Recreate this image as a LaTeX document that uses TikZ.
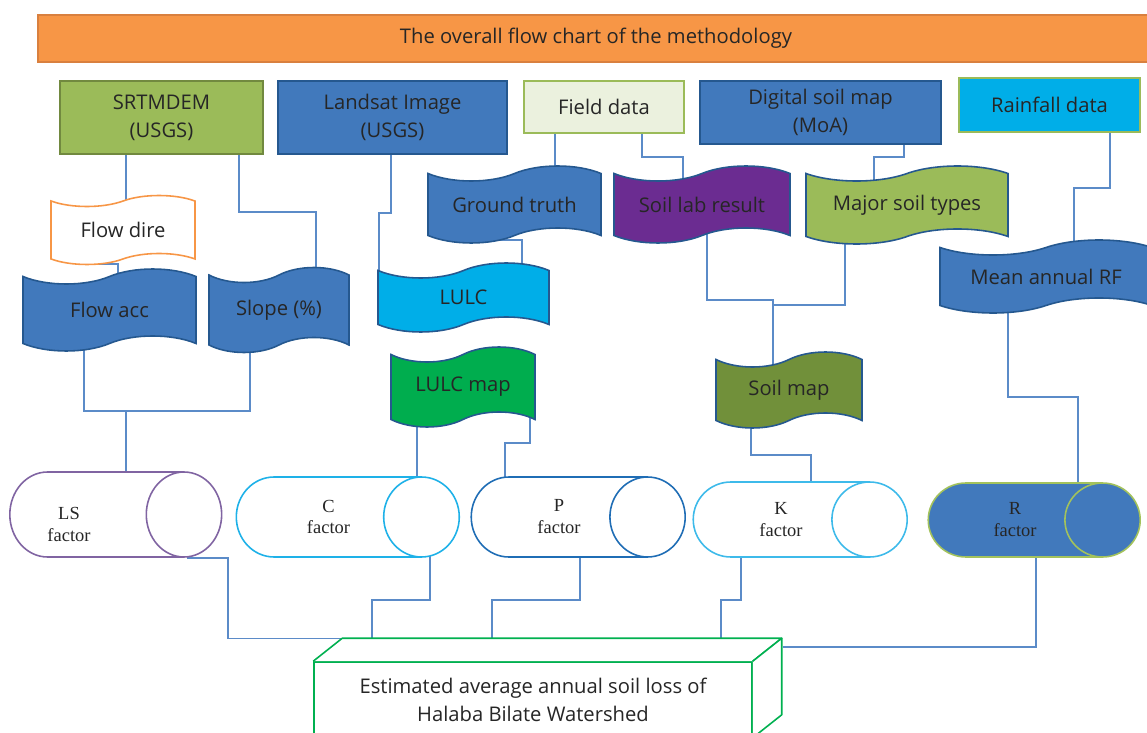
\documentclass[tikz,border=0pt]{standalone}
\usepackage{fontspec}
\setmainfont{Open Sans}
\newfontfamily\cylfont{Liberation Serif}
\usetikzlibrary{shapes.symbols,shapes.geometric,backgrounds,calc}

\definecolor{titlefill}{HTML}{F79646}
\definecolor{titleedge}{HTML}{D9803F}
\definecolor{greenfill}{HTML}{9BBB59}
\definecolor{greenedge}{HTML}{71893F}
\definecolor{bluefill}{HTML}{4179BC}
\definecolor{blueedge}{HTML}{25588F}
\definecolor{palegreen}{HTML}{EBF1DE}
\definecolor{cyanfill}{HTML}{00AEE8}
\definecolor{purplefill}{HTML}{6B2C91}
\definecolor{lulcgreen}{HTML}{00AD4E}
\definecolor{olivefill}{HTML}{71903A}
\definecolor{lsedge}{HTML}{8064A2}
\definecolor{cedge}{HTML}{1EB1E8}
\definecolor{pedge}{HTML}{1F6DB5}
\definecolor{kedge}{HTML}{3DBAEA}
\definecolor{redge}{HTML}{A3C25C}
\definecolor{lossedge}{HTML}{00B050}
\definecolor{linkblue}{HTML}{5B8BC8}
\definecolor{textgray}{HTML}{262626}

\tikzset{
  box/.style={rectangle, draw=blueedge, line width=0.9pt, text=textgray,
    align=center, inner sep=0pt, font=\fontsize{11.5}{16}\selectfont},
  flag/.style={tape, tape bend top=in and out, tape bend bottom=in and out,
    tape bend height=0.3cm, draw=blueedge, fill=bluefill, line width=0.9pt,
    text=textgray, inner sep=0pt, font=\fontsize{11.5}{16}\selectfont},
  factor/.style={cylinder, shape aspect=2.2, line width=0.9pt, fill=white,
    text=textgray, align=center, inner sep=0pt,
    font=\cylfont\fontsize{10.5}{12.5}\selectfont},
  link/.style={draw=linkblue, line width=0.8pt},
}

\begin{document}
\begin{tikzpicture}[x=0.02cm, y=-0.02cm]
\useasboundingbox (0,0) rectangle (1147,733);

% Title bar
\node[box, draw=titleedge, fill=titlefill, minimum width=22.32cm, minimum height=0.94cm] (title) at (596,38.5) {The overall flow chart of the methodology};

% Input data
\node[box, draw=greenedge, fill=greenfill, minimum width=4.06cm, minimum height=1.46cm] (srtm) at (161.5,117.5) {SRTMDEM\\(USGS)};
\node[box, fill=bluefill, minimum width=4.58cm, minimum height=1.46cm] (landsat) at (392.5,117.5) {Landsat Image\\(USGS)};
\node[box, draw=greenfill, fill=palegreen, minimum width=3.2cm, minimum height=1.04cm] (field) at (604,107) {Field data};
\node[box, fill=bluefill, minimum width=4.82cm, minimum height=1.26cm] (dsm) at (820.5,112.5) {Digital soil map\\(MoA)};
\node[box, draw=greenfill, fill=cyanfill, minimum width=3.62cm, minimum height=1.08cm] (rain) at (1049.5,105) {Rainfall data};

% Derived layers
\node[flag, draw=titlefill, fill=white, tape bend height=0.22cm, minimum width=2.88cm, minimum height=1.38cm] (fdir) at (123,230) {Flow dire};
\node[flag, minimum width=3.46cm, minimum height=1.64cm] (facc) at (109.5,310) {Flow acc};
\node[flag, minimum width=2.8cm, minimum height=1.7cm] (slope) at (279,310) {Slope (\%)};
\node[flag, minimum width=3.46cm, minimum height=1.54cm] (gtruth) at (514.5,204.5) {Ground truth};
\node[flag, fill=purplefill, minimum width=3.52cm, minimum height=1.54cm] (soillab) at (702,204.5) {Soil lab result};
\node[flag, fill=greenfill, minimum width=4.04cm, minimum height=1.56cm] (major) at (907,205) {Major soil types};
\node[flag, minimum width=4.24cm, minimum height=1.46cm] (meanrf) at (1046,276.5) {Mean annual RF};
\node[flag, fill=cyanfill, minimum width=3.42cm, minimum height=1.38cm] (lulc) at (463.5,297.5) {LULC};
\node[flag, fill=lulcgreen, minimum width=2.88cm, minimum height=1.6cm] (lulcmap) at (463,387) {LULC map};
\node[flag, fill=olivefill, minimum width=2.92cm, minimum height=1.52cm] (soilmap) at (789,390) {Soil map};

% Factors
\node[factor, draw=lsedge, minimum height=4.22cm, minimum width=1.7cm] (lsf) at (96.5,514.5)
  {\raisebox{-0.2cm}[13.5pt][6pt]{\begin{tabular}{@{}c@{}}LS\\factor\end{tabular}}\hspace{1.1cm}};
\node[factor, draw=cedge, minimum height=4.46cm, minimum width=1.6cm] (cf) at (328.5,517) {C\\factor};
\node[factor, draw=pedge, minimum height=4.28cm, minimum width=1.6cm] (pf) at (559,517) {P\\factor};
\node[factor, draw=kedge, minimum height=4.28cm, minimum width=1.5cm] (kf) at (781,519.5) {K\\factor};
\node[factor, draw=redge, fill=bluefill, minimum height=4.24cm, minimum width=1.48cm] (rf) at (1015,520) {R\\factor};

% Soil loss box (front face plus top and side)
\node[box, draw=lossedge, fill=white, minimum width=8.76cm, minimum height=1.5cm] (loss) at (533,699.5) {Estimated average annual soil loss of\\Halaba Bilate Watershed};
\coordinate (loss-bnw) at ($(loss.north west)+(29,-23)$);
\coordinate (loss-bne) at ($(loss.north east)+(29,-23)$);
\coordinate (loss-bse) at ($(loss.south east)+(29,-23)$);
\draw[lossedge, line width=0.9pt, fill=white, line join=round] (loss.north west) -- (loss-bnw) -- (loss-bne) -- (loss.north east);
\draw[lossedge, line width=0.9pt, fill=white, line join=round] (loss.north east) -- (loss-bne) -- (loss-bse) -- (loss.south east);

% Connectors
\begin{scope}[on background layer]
  \draw[link] (srtm.south -| 126,0) -- (fdir.center -| 126,0);
  \draw[link] (srtm.south -| 239,0) |- (316,212) -- (slope.center -| 316,0);
  \draw[link] (fdir.center -| 97,0) |- (118,264) -- (facc.center -| 118,0);
  \coordinate (lsjoin) at (126,411);
  \draw[link] (facc.center -| 84,0) |- (250,411) -- (slope.center -| 250,0);
  \draw[link] (lsjoin) -- (lsf.center -| 126,0);
  \draw[link] (landsat.south -| 391,0) |- (379,213) -- (lulc.center -| 379,0);
  \draw[link] (field.south -| 577,0) -| (gtruth.center -| 555,0);
  \draw[link] (field.south -| 642,0) |- (683,157) -- (soillab.center -| 683,0);
  \draw[link] (dsm.south -| 904,0) |- (874,157) -- (major.center -| 874,0);
  \draw[link] (rain.south -| 1110,0) |- (1074,188) -- (meanrf.center -| 1074,0);
  \draw[link] (gtruth.center -| 447,0) |- (522,240) -- (lulc.center -| 522,0);
  \draw[link] (soillab.center -| 707,0) |- (773,300) -- (soilmap.center -| 773,0);
  \draw[link] (major.center -| 845,0) |- (773,305);
  \draw[link] (lulcmap.center -| 417,0) -- (cf.center -| 417,0);
  \draw[link] (lulcmap.center -| 530,0) |- (505,443) -- (pf.center -| 505,0);
  \draw[link] (soilmap.center -| 751,0) |- (811,455) -- (kf.center -| 811,0);
  \draw[link] (meanrf.center -| 1008,0) |- (1078,397) -- (rf.center -| 1078,0);
  \draw[link] (lsf.center -| 188,0) |- (228,558) |- (loss-bnw);
  \draw[link] (cf.center -| 430,0) |- (372,600) -- (loss-bnw -| 372,0);
  \draw[link] (pf.center -| 580,0) |- (492,600) -- (loss-bnw -| 492,0);
  \draw[link] (kf.center -| 741,0) |- (721,600) -- (loss-bnw -| 721,0);
  \draw[link] (rf.center -| 1036,0) |- (783,647);
\end{scope}
\end{tikzpicture}
\end{document}
